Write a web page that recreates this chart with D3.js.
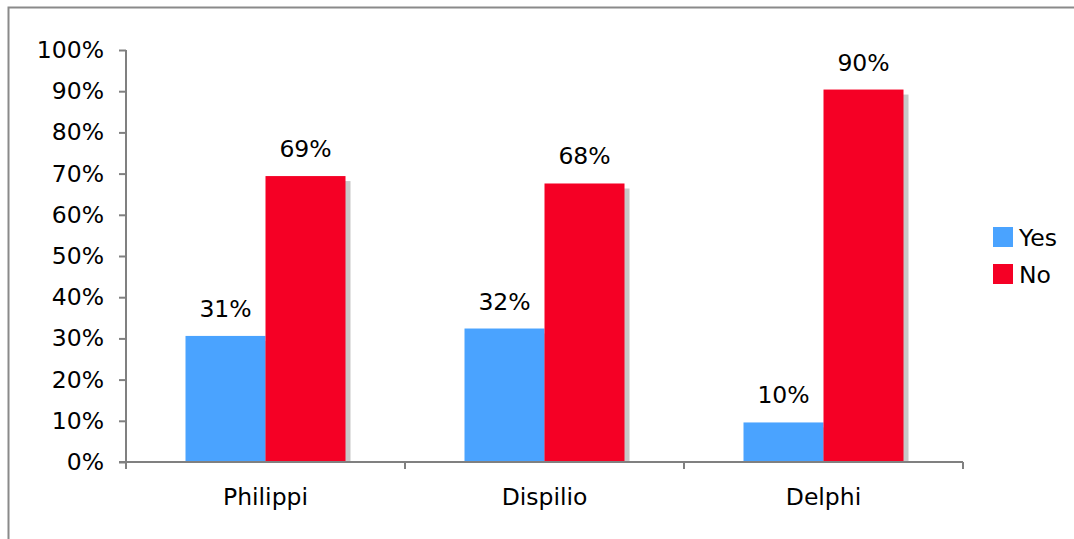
<!DOCTYPE html>
<html lang="en">
<head>
    <meta charset="UTF-8">
    <title>Yes / No by site</title>
    <style>
        body, html { margin: 0; padding: 0; background: #fff; }
        svg { display: block; font-family: "DejaVu Sans", Verdana, sans-serif; }
    </style>
</head>
<body>
    <svg id="svg" width="1074" height="539"></svg>
    <script src="https://d3js.org/d3.v7.min.js"></script>
    <script>
        const sites = ['Philippi', 'Dispilio', 'Delphi']
        const series = ['Yes', 'No']
        const yesValues = [30.6, 32.4, 9.6]
        const noValues = [69.4, 67.6, 90.4]
        const yesLabels = ['31%', '32%', '10%']
        const noLabels = ['69%', '68%', '90%']
        const yTicks = [0, 10, 20, 30, 40, 50, 60, 70, 80, 90, 100]
        const colors = ['#4aa3ff', '#f50025']
        const fontSize = 23.5

        const margin = { top: 50, left: 126, right: 111, bottom: 77 }
        const width = 1074 - margin.left - margin.right
        const height = 539 - margin.top - margin.bottom

        const svg = d3.select('#svg')

        // outer frame
        svg.append('path')
            .attr('d', 'M8.5,539 V7.5 H1074')
            .attr('fill', 'none')
            .attr('stroke', '#8a8a8a')
            .attr('stroke-width', 2)

        const xscale = d3.scaleBand()
            .domain(sites)
            .range([margin.left, margin.left + width])

        const inner = d3.scaleBand()
            .domain(series)
            .range([0, 160])

        const yscale = d3.scaleLinear()
            .domain([0, 100])
            .range([margin.top + height, margin.top])

        const rows = sites.map((s, i) => ({
            site: s,
            vals: [
                { key: 'Yes', v: yesValues[i], label: yesLabels[i] },
                { key: 'No', v: noValues[i], label: noLabels[i] }
            ]
        }))

        const groups = svg.append('g')
            .selectAll('g')
            .data(rows)
            .join('g')
            .attr('transform', d => `translate(${xscale(d.site) + xscale.bandwidth() / 2 - 80}, 0)`)

        // shadows
        groups.selectAll('rect.shadow')
            .data(d => d.vals)
            .join('rect')
            .attr('class', 'shadow')
            .attr('x', d => inner(d.key) + 5)
            .attr('y', d => yscale(d.v) + 5)
            .attr('width', inner.bandwidth())
            .attr('height', d => yscale(0) - yscale(d.v) - 5)
            .attr('fill', '#c8c8c8')

        groups.selectAll('rect.bar')
            .data(d => d.vals)
            .join('rect')
            .attr('class', 'bar')
            .attr('x', d => inner(d.key))
            .attr('y', d => yscale(d.v))
            .attr('width', inner.bandwidth())
            .attr('height', d => yscale(0) - yscale(d.v))
            .attr('fill', d => colors[series.indexOf(d.key)])

        groups.selectAll('text')
            .data(d => d.vals)
            .join('text')
            .attr('x', d => inner(d.key) + inner.bandwidth() / 2)
            .attr('y', d => yscale(d.v) - 19)
            .attr('text-anchor', 'middle')
            .attr('font-size', fontSize)
            .attr('fill', '#000')
            .text(d => d.label)

        // y axis
        const leftAxis = d3.axisLeft(yscale)
            .tickValues(yTicks)
            .tickFormat(d => d + '%')
            .tickSize(7)
            .tickPadding(15)
        const gy = svg.append('g')
            .attr('transform', `translate(${margin.left}, 0)`)
            .call(leftAxis)
        gy.select('.domain').remove()
        gy.append('line')
            .attr('x1', 0).attr('x2', 0)
            .attr('y1', margin.top).attr('y2', margin.top + height + 7)
            .attr('stroke', '#808080').attr('stroke-width', 2)
        gy.selectAll('.tick line').attr('stroke', '#808080').attr('stroke-width', 2)
        gy.selectAll('.tick text')
            .attr('font-size', fontSize)
            .attr('fill', '#000')
            .attr('font-family', '"DejaVu Sans", Verdana, sans-serif')

        // x axis
        const xAxisY = margin.top + height
        const gx = svg.append('g')
        gx.append('line')
            .attr('x1', margin.left - 7).attr('x2', margin.left + width)
            .attr('y1', xAxisY).attr('y2', xAxisY)
            .attr('stroke', '#808080').attr('stroke-width', 2)
        gx.selectAll('line.tk')
            .data(sites.slice(1).map(s => xscale(s)).concat([margin.left + width]))
            .join('line')
            .attr('class', 'tk')
            .attr('x1', d => d).attr('x2', d => d)
            .attr('y1', xAxisY).attr('y2', xAxisY + 7)
            .attr('stroke', '#808080').attr('stroke-width', 2)
        gx.selectAll('text')
            .data(sites)
            .join('text')
            .attr('x', d => xscale(d) + xscale.bandwidth() / 2)
            .attr('y', xAxisY + 43)
            .attr('text-anchor', 'middle')
            .attr('font-size', fontSize)
            .text(d => d)

        // legend
        const legend = svg.append('g')
            .attr('transform', 'translate(993, 227)')
        const li = legend.selectAll('g')
            .data(series)
            .join('g')
            .attr('transform', (d, i) => `translate(0, ${i * 37})`)
        li.append('rect')
            .attr('width', 20).attr('height', 20)
            .attr('fill', (d, i) => colors[i])
        li.append('text')
            .attr('x', 26).attr('y', 19)
            .attr('font-size', fontSize)
            .text(d => d)
    </script>
</body>
</html>
